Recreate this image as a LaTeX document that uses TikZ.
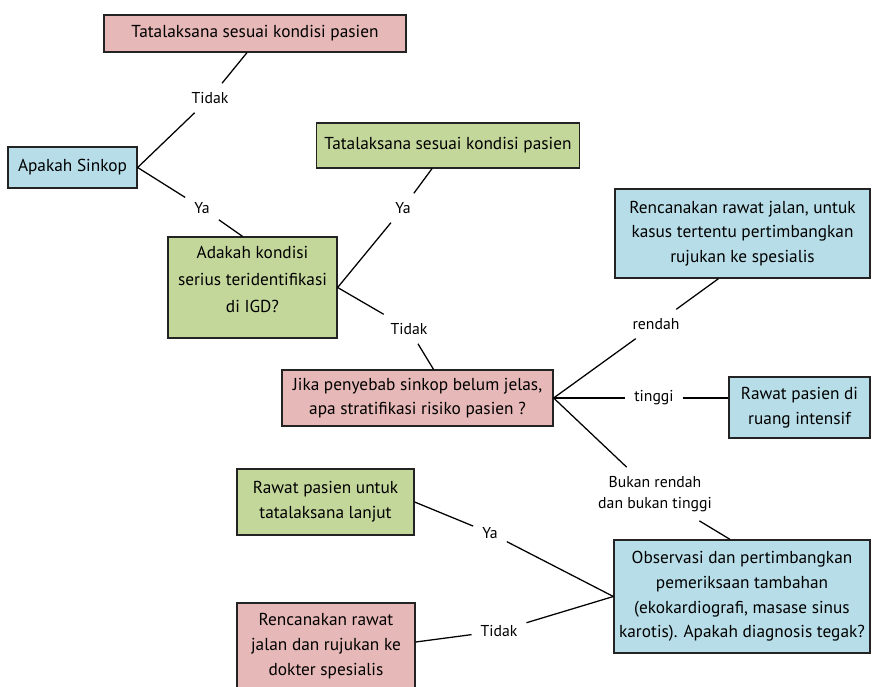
\documentclass[tikz,border=0pt]{standalone}
\usepackage{fontspec}
\setmainfont{PT Sans}
\usepackage{tikz}
\usetikzlibrary{positioning,calc}
\definecolor{pinkbox}{RGB}{230,184,183}
\definecolor{bluebox}{RGB}{183,222,232}
\definecolor{greenbox}{RGB}{196,215,155}
\definecolor{edgegray}{RGB}{35,35,35}

\begin{document}
\begin{tikzpicture}[
    box/.style={draw=edgegray, line width=0.9pt, align=center, inner sep=0pt, font=\fontsize{12.3}{17.5}\selectfont},
    lbl/.style={inner sep=0.22cm, align=center, font=\fontsize{11.2}{15}\selectfont},
    link/.style={line width=0.9pt, black}
]
    \useasboundingbox (0,0) rectangle (21.8,-17.15);

    % Boxes
    \node[box, fill=pinkbox, minimum width=7.55cm, minimum height=0.925cm] (top) at (6.375,-0.8375) {Tatalaksana sesuai kondisi pasien};
    \node[box, fill=bluebox, minimum width=3.225cm, minimum height=1.025cm] (sinkop) at (1.8125,-4.1875) {Apakah Sinkop};
    \node[box, fill=greenbox, minimum width=6.575cm, minimum height=1.125cm] (tata) at (11.2,-3.6375) {Tatalaksana sesuai kondisi pasien};
    \node[box, fill=greenbox, minimum width=4.225cm, minimum height=2.525cm, font=\fontsize{12.3}{19}\selectfont] (adakah) at (6.3125,-7.1875) {Adakah kondisi\\serius teridentifikasi\\di IGD?\\[-0.25cm]};
    \node[box, fill=pinkbox, minimum width=6.775cm, minimum height=1.4cm] (jika) at (10.4375,-9.95) {Jika penyebab sinkop belum jelas,\\apa stratifikasi risiko pasien ?};
    \node[box, fill=bluebox, minimum width=6.375cm, minimum height=2.225cm] (jalan) at (18.5625,-5.8375) {Rencanakan rawat jalan, untuk\\kasus tertentu pertimbangkan\\rujukan ke spesialis};
    \node[box, fill=bluebox, minimum width=3.525cm, minimum height=1.525cm] (intensif) at (19.9875,-10.1875) {Rawat pasien di\\ruang intensif};
    \node[box, fill=bluebox, minimum width=6.4cm, minimum height=2.825cm] (observasi) at (18.55,-14.9125) {Observasi dan pertimbangkan\\pemeriksaan tambahan\\(ekokardiografi, masase sinus\\karotis). Apakah diagnosis tegak?};
    \node[box, fill=greenbox, minimum width=4.425cm, minimum height=1.65cm] (lanjut) at (8.1375,-12.55) {Rawat pasien untuk\\tatalaksana lanjut};
    \node[box, fill=pinkbox, minimum width=4.45cm, minimum height=2.15cm] (rujukan) at (8.15,-16.15) {Rencanakan rawat\\jalan dan rujukan ke\\dokter spesialis};

    % Labels on the links
    \node[lbl] (tidakA) at (5.25,-2.45) {Tidak};
    \node[lbl] (yaA) at (5.05,-5.2) {Ya};
    \node[lbl] (yaB) at (10.075,-5.2) {Ya};
    \node[lbl] (tidakB) at (10.225,-8.225) {Tidak};
    \node[lbl] (rendah) at (16.4,-8.1) {rendah};
    \node[lbl] (tinggi) at (16.35,-9.95) {tinggi};
    \node[lbl] (bukan) at (16.375,-12.35) {Bukan rendah\\dan bukan tinggi};
    \node[lbl] (yaC) at (12.25,-13.325) {Ya};
    \node[lbl] (tidakC) at (12.475,-15.775) {Tidak};

    % Links
    \draw[link] (sinkop.east) -- (tidakA);
    \draw[link] (tidakA) -- ([xshift=-0.2cm]top.south);
    \draw[link] (sinkop.east) -- (yaA);
    \draw[link] (yaA) -- ([xshift=-0.25cm]adakah.north);
    \draw[link] (adakah.east) -- (yaB);
    \draw[link] (yaB) -- ([xshift=-0.4cm]tata.south);
    \draw[link] (adakah.east) -- (tidakB);
    \draw[link] (tidakB) -- ([xshift=0.4cm]jika.north);
    \draw[link] (jika.east) -- (rendah);
    \draw[link] (rendah) -- ([xshift=-0.6cm]jalan.south);
    \draw[link] (jika.east) -- (tinggi);
    \draw[link] (tinggi) -- (tinggi -| intensif.west);
    \draw[link] (jika.east) -- (bukan);
    \draw[link] (bukan) -- ([xshift=-0.3cm]observasi.north);
    \draw[link] (observasi.west) -- (yaC);
    \draw[link] (yaC) -- (lanjut.east);
    \draw[link] (observasi.west) -- (tidakC);
    \draw[link] (tidakC) -- ([yshift=0.1cm]rujukan.east);
\end{tikzpicture}
\end{document}
